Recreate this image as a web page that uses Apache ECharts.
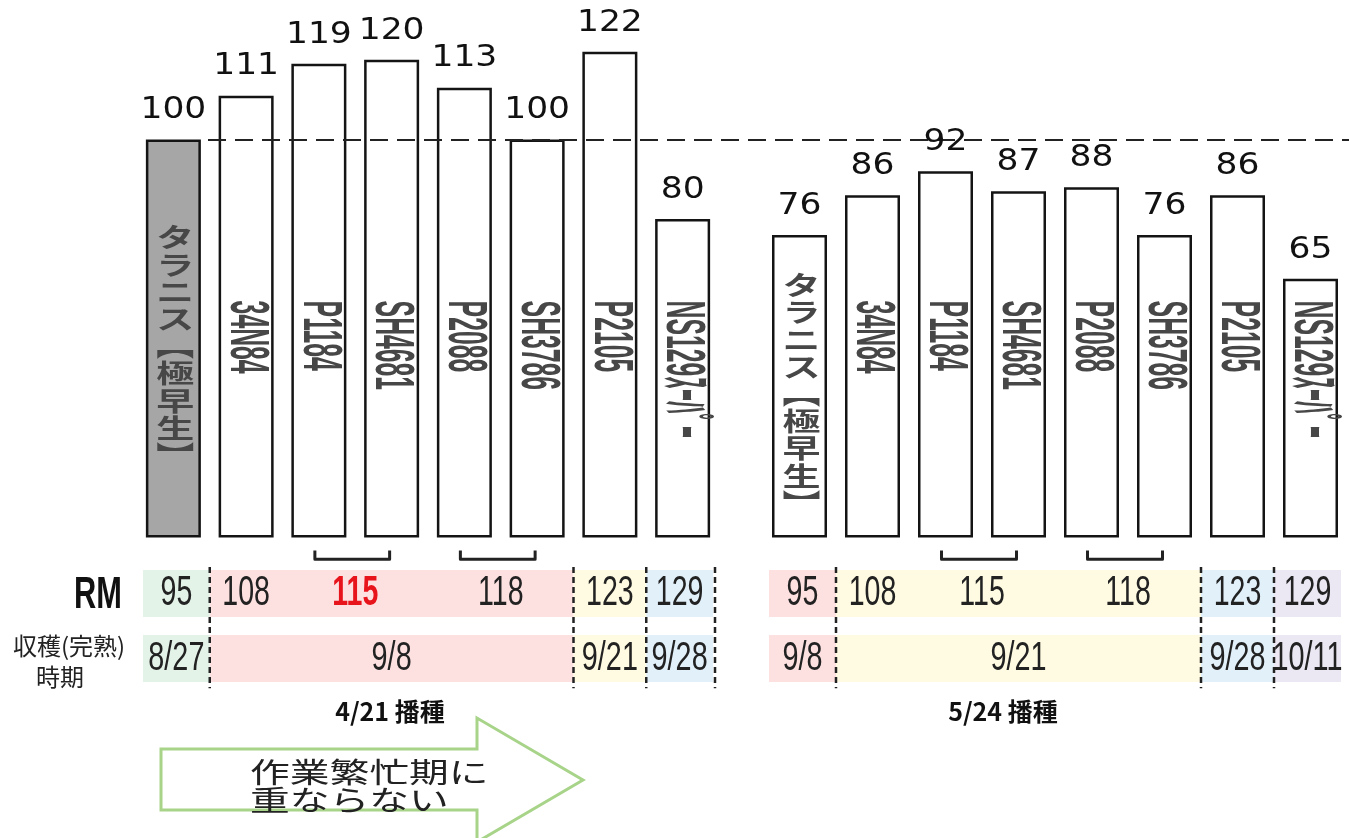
<!DOCTYPE html>
<html>
<head>
<meta charset="utf-8">
<script src="https://cdn.jsdelivr.net/npm/echarts@6/dist/echarts.min.js"></script>
<style>
html, body { margin: 0; padding: 0; background: #fff; }
#chart { width: 1349px; height: 838px; }
</style>
</head>
<body>
<div id="chart"></div>
<script>
// 品種 (両播種日で共通)
const varieties = ['タラニス【極早生】', '34N84', 'P1184', 'SH4681', 'P2088', 'SH3786', 'P2105', 'NS129ｽｰﾊﾟｰ'];
// 収量指数 (タラニス4/21播種 = 100)
const yield0421 = [100, 111, 119, 120, 113, 100, 122, 80];
const yield0524 = [76, 86, 92, 87, 88, 76, 86, 65];
// RM
const rmValues = [95, 108, 115, 115, 118, 118, 123, 129];
// 収穫(完熟)時期
const harvest0421 = ['8/27', '9/8', '9/8', '9/8', '9/8', '9/8', '9/21', '9/28'];
const harvest0524 = ['9/8', '9/21', '9/21', '9/21', '9/21', '9/21', '9/28', '10/11'];
const sowingLabels = ['4/21 播種', '5/24 播種'];
const baseLine = 100;

const yields = [yield0421, yield0524];
const harvests = [harvest0421, harvest0524];

const NUM_FONT = "'Liberation Sans', 'Noto Sans CJK JP', sans-serif";
const JP_FONT = "'Noto Sans CJK JP', sans-serif";
const harvestColors = {
    '8/27': '#e3f3e8',
    '9/8': '#fde1e1',
    '9/21': '#fffbe2',
    '9/28': '#e2f0fa',
    '10/11': '#ebe7f3'
};
const highlight = { group: 0, rm: 115 };

const chart = echarts.init(document.getElementById('chart'));

// 同じ収穫時期が続く品種をまとめる
function runs(harvest) {
    const out = [];
    harvest.forEach((d, i) => {
        const last = out[out.length - 1];
        if (last && last.date === d) last.end = i;
        else out.push({ date: d, start: i, end: i });
    });
    return out;
}

function valueLabel(params, api) {
    const v = api.value(1);
    const p = api.coord([params.dataIndex, v]);
    return {
        type: 'text', x: p[0], y: p[1] - 14, scaleX: 1.15,
        style: {
            text: String(v), fontFamily: 'DejaVu Sans', fontSize: 30,
            fill: '#111', align: 'center', verticalAlign: 'bottom'
        }
    };
}

function nameLabel(params, api) {
    const i = params.dataIndex;
    const v = api.value(1);
    const name = varieties[i];
    if (/^[\u3040-\u30ff\u4e00-\u9fff]/.test(name)) {
        // 縦書き
        const p = api.coord([i, v / 2]);
        const txt = Array.from(name.replace('【', '︻').replace('】', '︼')).join('\n');
        return {
            type: 'text', x: p[0] + 2, y: p[1] + 8, scaleY: 0.68,
            style: {
                text: txt, fontFamily: JP_FONT, fontWeight: 'bold', fontSize: 38,
                lineHeight: 40, fill: '#474747', align: 'center', verticalAlign: 'middle'
            }
        };
    }
    const p = api.coord([i, 59.5]);
    return {
        type: 'text', x: p[0], y: p[1], rotation: -Math.PI / 2, scaleX: 0.45,
        style: {
            text: name, fontFamily: NUM_FONT, fontWeight: 'bold', fontSize: 55,
            fill: '#474747', align: 'left', verticalAlign: 'middle'
        }
    };
}

function tableItem(g, cells) {
    const n = varieties.length;
    return function (params, api) {
        const c = cells[params.dataIndex];
        const band = api.size([1, 0])[0];
        const cx = i => api.coord([i, 0])[0];
        const y = v => api.coord([0, v])[1];
        const x0 = cx(c.start) - band / 2 + (c.start === 0 ? 6 : 0);
        const x1 = cx(c.end) + band / 2 - (c.end === n - 1 ? 6 : 0);
        const rmTop = y(-8.2), rmBot = y(-20), dTop = y(-24.5), dBot = y(-36.3);
        const fill = harvestColors[c.date];
        const children = [
            { type: 'rect', shape: { x: x0, y: rmTop, width: x1 - x0, height: rmBot - rmTop }, style: { fill: fill } },
            { type: 'rect', shape: { x: x0, y: dTop, width: x1 - x0, height: dBot - dTop }, style: { fill: fill } },
            {
                type: 'text', x: (x0 + x1) / 2, y: (dTop + dBot) / 2, scaleX: 0.72,
                style: { text: c.date, fontFamily: NUM_FONT, fontSize: 40, fill: '#222', align: 'center', verticalAlign: 'middle' }
            }
        ];
        // RMごとの位置
        const groups = [];
        for (let i = c.start; i <= c.end; i++) {
            const last = groups[groups.length - 1];
            if (last && last.rm === rmValues[i]) last.idx.push(i);
            else groups.push({ rm: rmValues[i], idx: [i] });
        }
        groups.forEach(r => {
            const mean = r.idx.reduce((a, b) => a + b, 0) / r.idx.length;
            const x = c.start === c.end ? (x0 + x1) / 2 : cx(c.start) + (mean - c.start) * band;
            const hot = g === highlight.group && r.rm === highlight.rm;
            children.push({
                type: 'text', x: x, y: (rmTop + rmBot) / 2, scaleX: 0.68,
                style: {
                    text: String(r.rm), fontFamily: NUM_FONT, fontSize: 42, fontWeight: hot ? 'bold' : 'normal',
                    fill: hot ? '#e8141c' : '#222', align: 'center', verticalAlign: 'middle'
                }
            });
            if (r.idx.length > 1) {
                const a = cx(r.idx[0]) - 4, b = cx(r.idx[r.idx.length - 1]) - 2;
                children.push({
                    type: 'polyline',
                    shape: { points: [[a, y(-3.3)], [a, y(-5.5)], [b, y(-5.5)], [b, y(-3.3)]] },
                    style: { stroke: '#222', lineWidth: 3, fill: null, lineJoin: 'round' }
                });
            }
        });
        const sep = x => ({
            type: 'line', shape: { x1: x, y1: y(-7.4), x2: x, y2: y(-37.9) },
            style: { stroke: '#222', lineWidth: 2.5, lineDash: [6, 4] }
        });
        if (c.start > 0) children.push(sep(x0));
        if (g === 0 && c.end === n - 1) children.push(sep(x1 + 2));
        return { type: 'group', children: children };
    };
}

function seriesFor(g) {
    const values = yields[g];
    const cells = runs(harvests[g]);
    const list = [
        {
            type: 'bar', xAxisIndex: g, yAxisIndex: g, barWidth: 55, clip: false, silent: true, z: 2,
            itemStyle: { borderColor: '#141414', borderWidth: 2.5 },
            data: values.map((v, i) => ({ value: v, itemStyle: { color: g === 0 && i === 0 ? '#a6a6a6' : '#fff' } }))
        },
        {
            type: 'custom', xAxisIndex: g, yAxisIndex: g, silent: true, z: 6,
            data: values.map((v, i) => [i, v]), renderItem: nameLabel
        },
        {
            type: 'custom', xAxisIndex: g, yAxisIndex: g, silent: true, z: 6,
            data: values.map((v, i) => [i, v]), renderItem: valueLabel
        },
        {
            type: 'custom', xAxisIndex: g, yAxisIndex: g, silent: true, z: 4,
            data: cells.map(c => [c.start, 0]), renderItem: tableItem(g, cells)
        }
    ];
    if (g === 0) {
        list[0].markLine = {
            silent: true, symbol: ['none', 'none'], label: { show: false },
            lineStyle: { color: '#222', width: 2, type: [18, 9] },
            data: [[{ x: 208, yAxis: baseLine }, { x: 1349, yAxis: baseLine }]]
        };
    }
    return list;
}

const options = {
    animation: false,
    backgroundColor: '#fff',
    grid: [
        { left: 137, width: 582, top: 20, bottom: 2 },
        { left: 763, width: 584, top: 20, bottom: 2 }
    ],
    xAxis: [0, 1].map(g => ({ gridIndex: g, type: 'category', data: varieties, show: false })),
    yAxis: [0, 1].map(g => ({ gridIndex: g, type: 'value', min: -75, max: 130, show: false })),
    series: seriesFor(0).concat(seriesFor(1)),
    graphic: [
        {
            type: 'text', x: 122, y: 596, scaleX: 0.7,
            style: { text: 'RM', fontFamily: NUM_FONT, fontWeight: 'bold', fontSize: 44, fill: '#111', align: 'right', verticalAlign: 'middle' }
        },
        {
            type: 'text', x: 69, y: 646,
            style: { text: '収穫(完熟)', fontFamily: JP_FONT, fontSize: 24, fill: '#222', align: 'center', verticalAlign: 'middle' }
        },
        {
            type: 'text', x: 60, y: 677,
            style: { text: '時期', fontFamily: JP_FONT, fontSize: 24, fill: '#222', align: 'center', verticalAlign: 'middle' }
        },
        {
            type: 'text', x: 390, y: 711,
            style: { text: sowingLabels[0], fontFamily: JP_FONT, fontWeight: 'bold', fontSize: 25, fill: '#111', align: 'center', verticalAlign: 'middle' }
        },
        {
            type: 'text', x: 1003, y: 711,
            style: { text: sowingLabels[1], fontFamily: JP_FONT, fontWeight: 'bold', fontSize: 25, fill: '#111', align: 'center', verticalAlign: 'middle' }
        },
        {
            type: 'polygon',
            shape: { points: [[161, 749], [477, 749], [477, 718], [583, 780], [477, 842], [477, 810], [161, 810]] },
            style: { fill: '#fff', stroke: '#a8d48a', lineWidth: 3 }
        },
        {
            type: 'text', x: 250, y: 772, scaleX: 1.42,
            style: { text: '作業繁忙期に', fontFamily: JP_FONT, fontSize: 28, fill: '#222', align: 'left', verticalAlign: 'middle' }
        },
        {
            type: 'text', x: 250, y: 800, scaleX: 1.42,
            style: { text: '重ならない', fontFamily: JP_FONT, fontSize: 28, fill: '#222', align: 'left', verticalAlign: 'middle' }
        }
    ]
};

chart.setOption(options);
</script>
</body>
</html>
